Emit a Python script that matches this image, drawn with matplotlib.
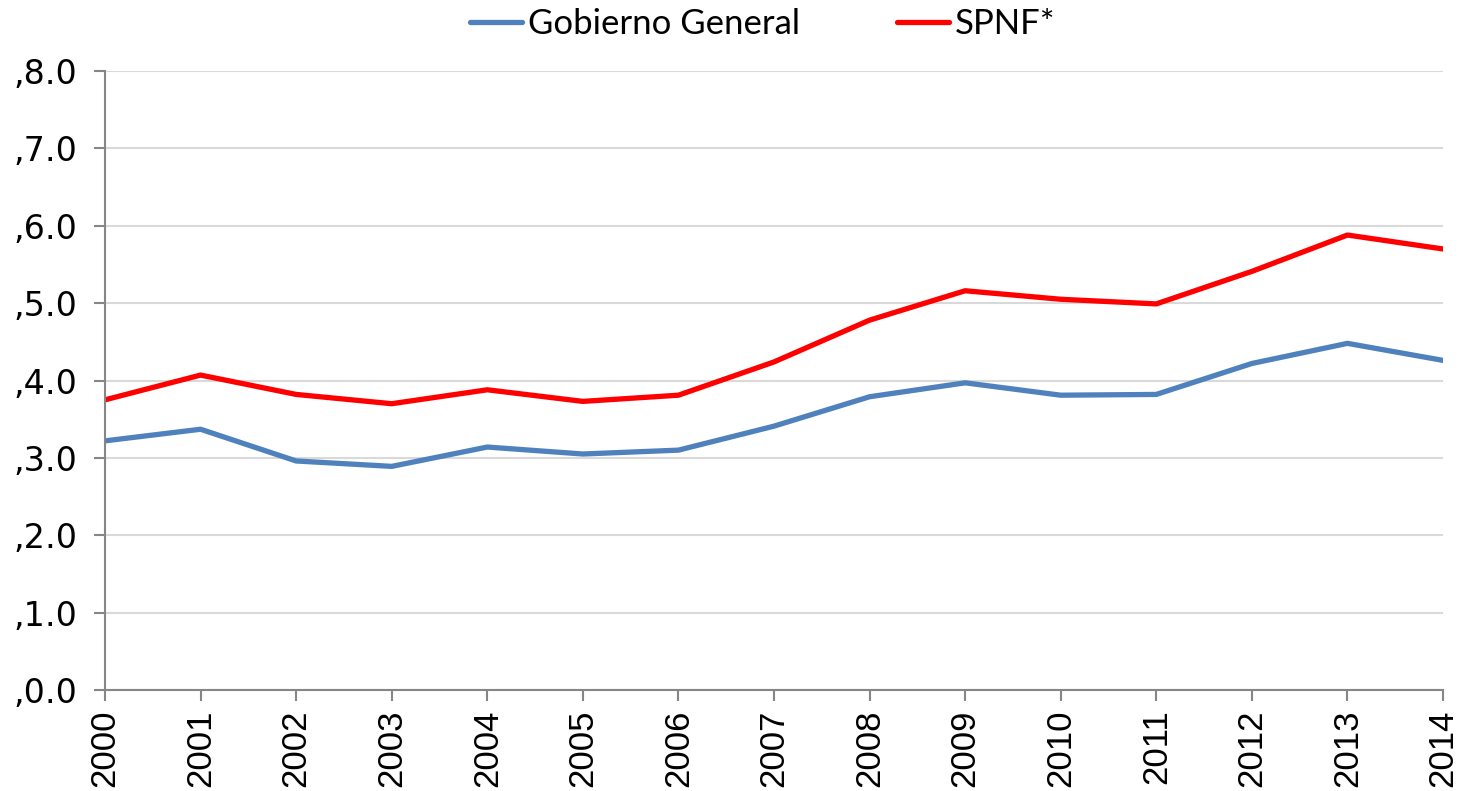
import matplotlib
matplotlib.use("Agg")
import matplotlib.pyplot as plt
from matplotlib.ticker import FuncFormatter

years = list(range(2000, 2015))
gobierno = [3.22, 3.37, 2.96, 2.89, 3.14, 3.05, 3.10, 3.41, 3.79, 3.97, 3.81, 3.82, 4.22, 4.48, 4.26]
spnf = [3.75, 4.07, 3.82, 3.70, 3.88, 3.73, 3.81, 4.24, 4.78, 5.16, 5.05, 4.99, 5.41, 5.88, 5.70]
labels = ["Gobierno General", "SPNF*"]

fig = plt.figure(figsize=(14.61, 7.91), dpi=100)
ax = fig.add_axes([105/1461, 1-690/791, (1443-105)/1461, (690-71)/791])

ax.plot(years, gobierno, color="#4f81bd", lw=3.8, label=labels[0], solid_capstyle="round")
ax.plot(years, spnf, color="#ff0000", lw=3.8, label=labels[1], solid_capstyle="round")

ax.set_xlim(2000, 2014)
ax.set_ylim(0, 8)
ax.set_yticks(range(0, 9))
ax.yaxis.set_major_formatter(FuncFormatter(lambda v, p: ",%.1f" % v))
ax.set_xticks(years)
ax.set_xticklabels([str(y) for y in years], rotation=90, fontsize=25, family="Liberation Sans")
for t in ax.get_yticklabels():
    t.set_fontsize(24)
    t.set_family("DejaVu Sans")

ax.grid(axis="y", color="#d9d9d9", lw=1.5)
ax.set_axisbelow(True)
for s in ["top", "right"]:
    ax.spines[s].set_visible(False)
for s in ["left", "bottom"]:
    ax.spines[s].set_color("#868686")
    ax.spines[s].set_linewidth(1.5)
ax.tick_params(axis="both", direction="out", length=8, width=1.5, color="#868686", pad=6)
ax.tick_params(axis="y", pad=12)

leg = fig.legend(loc="center", bbox_to_anchor=(0.522, 1-24/791), ncol=2, frameon=False,
                 prop={"family": "Lato", "size": 25}, handlelength=1.5, handletextpad=0.17,
                 columnspacing=2.8)

fig.savefig("out.png", dpi=100)
